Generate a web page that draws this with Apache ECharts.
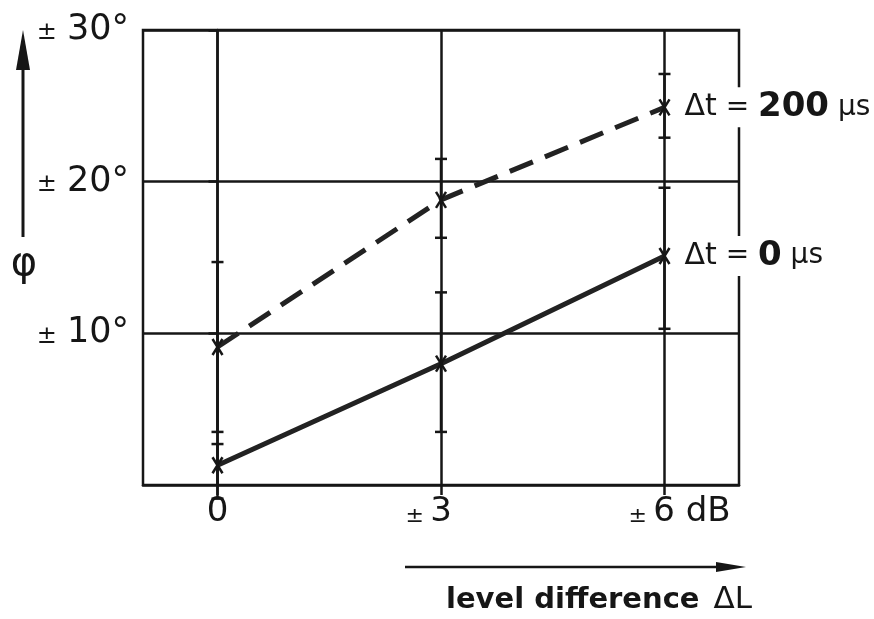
<!DOCTYPE html>
<html>
<head>
<meta charset="utf-8">
<script src="https://cdn.jsdelivr.net/npm/echarts@6/dist/echarts.min.js"></script>
<style>
html, body { margin: 0; padding: 0; background: #fff; }
#chart { width: 874px; height: 619px; }
</style>
</head>
<body>
<div id="chart"></div>
<script>
var dom = document.getElementById("chart");
var myChart = echarts.init(dom);

// level difference (dB) and angle values
var levels = [0, 3, 6];
var delay200Mean = [9.1, 18.8, 24.9];
var delay200Low = [3.5, 16.3, 22.9];
var delay200High = [14.7, 21.5, 27.1];
var delay0Mean = [1.3, 8.0, 15.1];
var delay0Low = [-0.9, 3.5, 10.3];
var delay0High = [2.7, 12.7, 19.6];
var yTicks = [10, 20, 30];
var xTicks = [0, 3, 6];

var ink = '#161616';
var font = 'DejaVu Sans';

function pairs(xs, ys) {
    return xs.map(function (x, i) { return [x, ys[i]]; });
}
function bars(xs, lo, hi, mid) {
    return xs.map(function (x, i) { return [x, lo[i], hi[i], mid[i]]; });
}

// error bar with caps + X marker
function renderErrorBar(params, api) {
    var x = api.value(0);
    var lo = api.coord([x, api.value(1)]);
    var hi = api.coord([x, api.value(2)]);
    var mid = api.coord([x, api.value(3)]);
    var cap = 6;
    var st = { stroke: ink, lineWidth: 2.5, fill: null };
    var mk = { stroke: ink, lineWidth: 2.5, fill: null };
    return {
        type: 'group',
        children: [
            { type: 'line', shape: { x1: lo[0], y1: lo[1], x2: hi[0], y2: hi[1] }, style: st },
            { type: 'line', shape: { x1: lo[0] - cap, y1: lo[1], x2: lo[0] + cap, y2: lo[1] }, style: st },
            { type: 'line', shape: { x1: hi[0] - cap, y1: hi[1], x2: hi[0] + cap, y2: hi[1] }, style: st },
            { type: 'line', shape: { x1: mid[0] - 5, y1: mid[1] - 8, x2: mid[0] + 5, y2: mid[1] + 8 }, style: mk },
            { type: 'line', shape: { x1: mid[0] + 5, y1: mid[1] - 8, x2: mid[0] - 5, y2: mid[1] + 8 }, style: mk }
        ]
    };
}

var endRich = {
    d: { fontFamily: font, fontSize: 30, color: ink },
    e: { fontFamily: font, fontSize: 28, color: ink },
    b: { fontFamily: font, fontSize: 34, fontWeight: 'bold', color: ink },
    u: { fontFamily: font, fontSize: 28, color: ink }
};

var option = {
    animation: false,
    backgroundColor: '#fff',
    grid: {
        left: 143, right: 135, top: 30, bottom: 134,
        show: true, borderColor: ink, borderWidth: 2.5, backgroundColor: 'transparent'
    },
    xAxis: {
        type: 'value',
        min: -1, max: 7, interval: 1,
        axisLine: { show: true, lineStyle: { color: ink, width: 2.5 } },
        axisTick: { show: true, customValues: xTicks, length: 10, lineStyle: { color: ink, width: 2.5 } },
        splitLine: { show: false },
        axisLabel: {
            customValues: xTicks,
            margin: 10,
            color: ink,
            formatter: function (v) {
                if (v === 0) return '{n|0}';
                if (v === 3) return '{pm|±}{sp| }{n|3}{sp| }{hp|±}';
                return '{pad| }{pm|±}{sp| }{n|6}{n| dB}';
            },
            rich: {
                n: { fontFamily: font, fontSize: 34, color: ink },
                pm: { fontFamily: font, fontSize: 22, color: ink, padding: [8, 0, 0, 0] },
                hp: { fontFamily: font, fontSize: 22, color: 'transparent', padding: [8, 0, 0, 0] },
                sp: { fontFamily: font, fontSize: 20 },
                pad: { fontFamily: font, fontSize: 14, width: 30 }
            }
        }
    },
    yAxis: {
        type: 'value',
        min: 0, max: 30, interval: 10,
        axisLine: { show: true, lineStyle: { color: ink, width: 2.5 } },
        axisTick: { show: true, customValues: yTicks, length: 9, lineStyle: { color: ink, width: 2.5 } },
        splitLine: { show: true, lineStyle: { color: ink, width: 2.5 } },
        axisLabel: {
            customValues: yTicks,
            margin: 14,
            color: ink,
            formatter: function (v) { return '{pm|±}{n|' + v + '°}'; },
            rich: {
                n: { fontFamily: font, fontSize: 35, color: ink },
                pm: { fontFamily: font, fontSize: 24, color: ink, padding: [6, 10, 0, 0] }
            }
        }
    },
    graphic: [
        // phi arrow
        { type: 'line', shape: { x1: 23, y1: 237, x2: 23, y2: 66 }, style: { stroke: ink, lineWidth: 3 } },
        { type: 'polygon', shape: { points: [[23, 30], [16, 70], [30, 70]] }, style: { fill: ink } },
        { type: 'text', x: 24, y: 265, style: { text: 'φ', font: '40px "DejaVu Sans"', fill: ink, align: 'center', verticalAlign: 'middle' } },
        // level difference arrow
        { type: 'line', shape: { x1: 405, y1: 567, x2: 722, y2: 567 }, style: { stroke: ink, lineWidth: 2.5 } },
        { type: 'polygon', shape: { points: [[746, 567], [716, 562], [716, 572]] }, style: { fill: ink } },
        {
            type: 'text', x: 752, y: 600,
            style: {
                text: '{a|level difference}{g| }{b|ΔL}',
                align: 'right', verticalAlign: 'middle',
                rich: {
                    a: { fontFamily: font, fontSize: 29, fontWeight: 'bold', fill: ink },
                    g: { fontFamily: font, fontSize: 14, width: 14 },
                    b: { fontFamily: font, fontSize: 31, fill: ink }
                }
            }
        }
    ],
    series: [
        {
            type: 'line',
            name: 'Δt = 200 µs',
            data: pairs(levels, delay200Mean),
            showSymbol: false,
            z: 3,
            lineStyle: { color: '#222', width: 5, type: [25, 13] },
            markLine: {
                silent: true,
                symbol: 'none',
                label: { show: false },
                lineStyle: { color: ink, width: 2.5, type: 'solid' },
                data: xTicks.map(function (x) { return { xAxis: x }; })
            },
            endLabel: {
                show: true,
                distance: 18,
                formatter: '{d|Δt}{e| = }{b|200}{u| µs}',
                backgroundColor: '#fff',
                padding: [3, 2],
                rich: endRich
            }
        },
        {
            type: 'line',
            name: 'Δt = 0 µs',
            data: pairs(levels, delay0Mean),
            showSymbol: false,
            z: 3,
            lineStyle: { color: '#222', width: 5 },
            endLabel: {
                show: true,
                distance: 18,
                formatter: '{d|Δt}{e| = }{b|0}{u| µs}',
                backgroundColor: '#fff',
                padding: [3, 2],
                rich: endRich
            }
        },
        {
            type: 'custom',
            clip: false,
            z: 4,
            renderItem: renderErrorBar,
            data: bars(levels, delay200Low, delay200High, delay200Mean)
        },
        {
            type: 'custom',
            clip: false,
            z: 4,
            renderItem: renderErrorBar,
            data: bars(levels, delay0Low, delay0High, delay0Mean)
        }
    ]
};
myChart.setOption(option);
</script>
</body>
</html>
